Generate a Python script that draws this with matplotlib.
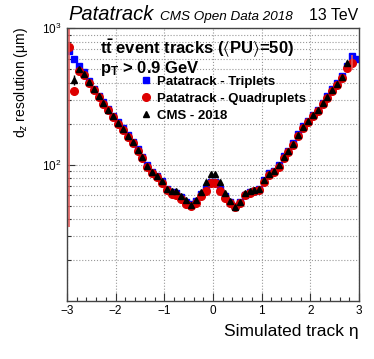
import numpy as np
import matplotlib
matplotlib.use("Agg")
import matplotlib.pyplot as plt
from matplotlib.ticker import FixedLocator, LogLocator, MultipleLocator, NullFormatter

plt.rcParams['font.family'] = ['Liberation Sans', 'DejaVu Sans']
plt.rcParams['mathtext.fontset'] = 'custom'
plt.rcParams['mathtext.rm'] = 'Liberation Sans'
plt.rcParams['mathtext.it'] = 'Liberation Sans:italic'
plt.rcParams['mathtext.bf'] = 'Liberation Sans:bold'
plt.rcParams['mathtext.fallback'] = 'stixsans'

# bin centres in eta (60 bins of 0.1 from -3 to 3)
eta = np.round(np.linspace(-2.95, 2.95, 60), 2)

# d_z resolution in um
triplets = [677, 597, 530, 476, 409, 361, 321, 287, 256, 229,
            205, 186, 164, 148, 130, 115, 99.5, 89, 83, 76,
            67, 63, 62, 58, 53.5, 51.5, 54, 61, 67.5, 74.6,
            74.6, 66, 59, 53, 50, 53, 60.4, 63, 64.7, 66,
            77, 86.5, 90, 100, 116, 127, 144, 168, 191, 210,
            233, 253, 284, 318, 359, 397, 445, 530, 628, 597]

quadruplets = [727, 349, 490, 457, 400, 352, 313, 280, 250, 224,
               200, 181, 160, 144, 127, 112, 97, 87, 81, 74,
               65, 61, 60, 56, 52, 50, 52.5, 59, 64.7, 73,
               73, 64, 57, 52.6, 48.7, 52.6, 60, 62, 64, 65,
               75, 84, 88, 97, 113, 124, 140, 163, 186, 205,
               227, 247, 277, 310, 350, 387, 434, 510, 557, np.nan]

cms2018 = [np.nan, 418, 506, 465, 405, 357, 318, 284, 254, 227,
           203, 184, 162, 146, 129, 114, 98.5, 88.5, 82.5, 75.5,
           67, 64.5, 64.5, 59, 55, 50.7, 55, 63.5, 75, 85,
           85, 74.6, 61.7, 54.5, 48.7, 53, 62.3, 64.2, 65.2, 66.4,
           77, 86, 90, 99.5, 115, 126, 143, 166, 190, 208,
           231, 251, 282, 316, 356, 394, 441, 557, np.nan, np.nan]

# the few visible error bars
quad_err_eta = [-2.95, 2.85]
quad_err_lo = [692, 60]
quad_err_hi = [700, 85]
cms_err_eta = [-2.85, 2.75]
cms_err = [35, 25]

fig = plt.figure(figsize=(3.74, 3.59), dpi=100)
ax = fig.add_axes([0.179, 0.161, 0.781, 0.760])

ax.plot(eta, triplets, 's', color='#0000ff', ms=5, mec='#0000ff', label='Patatrack - Triplets')
ax.plot(eta, quadruplets, 'o', color='#dd0000', ms=5.5, mec='#dd0000', label='Patatrack - Quadruplets')
ax.plot(eta, cms2018, '^', color='black', ms=5, label='CMS - 2018')

# error bars
qy = [quadruplets[list(eta).index(e)] for e in quad_err_eta]
ax.errorbar(quad_err_eta, qy, yerr=[quad_err_lo, quad_err_hi], fmt='none',
            ecolor='#e85a5a', elinewidth=1.2, capsize=0)
cy = [cms2018[list(eta).index(e)] for e in cms_err_eta]
ax.errorbar(cms_err_eta, cy, yerr=cms_err, fmt='none', ecolor='black',
            elinewidth=1.0, capsize=0)

ax.set_yscale('log')
ax.set_xlim(-3, 3)
ax.set_ylim(10, 1000)

ax.xaxis.set_major_locator(MultipleLocator(1))
ax.xaxis.set_minor_locator(MultipleLocator(0.2))
ax.yaxis.set_major_locator(FixedLocator([100, 1000]))
ax.yaxis.set_minor_locator(LogLocator(base=10, subs=np.arange(2, 10)))
ax.yaxis.set_minor_formatter(NullFormatter())

ax.tick_params(which='both', direction='in', top=False, right=False,
               labelsize=8.5, color='#333333')
ax.tick_params(which='major', length=6, width=0.8)
ax.tick_params(which='minor', length=3, width=0.8)
ax.tick_params(axis='x', pad=2.5)
ax.tick_params(axis='y', pad=4)

ax.grid(True, which='major', axis='x', ls=':', color='#999999', lw=0.8)
ax.grid(True, which='both', axis='y', ls=':', color='#999999', lw=0.8)

for s in ax.spines.values():
    s.set_color('#444444')
    s.set_linewidth(1.0)

ax.set_xlabel('Simulated track η', fontsize=12.5, loc='right')
ax.xaxis.set_label_coords(1.0, -0.085)
ax.xaxis.label.set_va('top')
ax.set_ylabel(r'd$_{z}$ resolution (μm)', fontsize=10, loc='top')
ax.yaxis.set_label_coords(-0.128, 1.005)

# header above the frame
fig.text(0.182, 0.943, 'Patatrack', fontsize=14.5, style='italic', va='baseline')
fig.text(0.428, 0.943, 'CMS Open Data 2018', fontsize=9.7, style='italic', va='baseline')
fig.text(0.957, 0.943, '13 TeV', fontsize=11.4, ha='right', va='baseline')

# text inside the frame
ax.text(0.113, 0.905, r'$\mathbf{t\bar{t}}$ event tracks ($\langle$PU$\rangle$=50)',
        transform=ax.transAxes, fontsize=12, fontweight='bold', va='baseline')
ax.text(0.113, 0.838, r'$\mathbf{p_{T}}$ > 0.9 GeV',
        transform=ax.transAxes, fontsize=12, fontweight='bold', va='baseline')

ax.legend(loc='upper left', bbox_to_anchor=(0.249, 0.826), frameon=False,
          prop={'weight': 'bold', 'size': 9.5}, handlelength=1.0,
          handletextpad=0.3, labelspacing=0.36, borderpad=0, borderaxespad=0,
          numpoints=1)

fig.savefig('out.png', dpi=100)
